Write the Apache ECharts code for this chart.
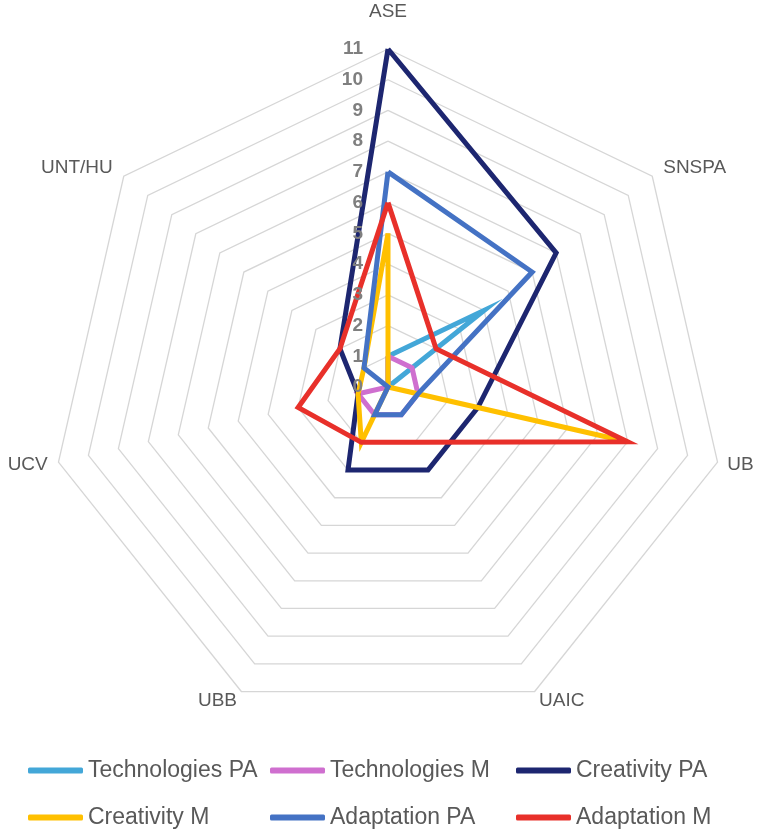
<!DOCTYPE html>
<html>
<head>
<meta charset="utf-8">
<script src="https://cdn.jsdelivr.net/npm/echarts@6/dist/echarts.min.js"></script>
<style>
  html, body { margin: 0; padding: 0; background: #fff; }
  #chart { width: 762px; height: 833px; }
</style>
</head>
<body>
<div id="chart"></div>
<script>
// axes in the order Excel draws them (clockwise from the top)
const universities = ['ASE', 'SNSPA', 'UB', 'UAIC', 'UBB', 'UCV', 'UNT/HU'];
const nameGaps = [28, 14, 10, 10, 10, 11, 14];

const technologiesPA = [1, 4, 0, 0, 0, 0, 0];
const technologiesM = [1, 1, 1, 1, 1, 1, 0];
const creativityPA = [11, 7, 3, 3, 3, 1, 2];
const creativityM = [5, 0, 8, 0, 2, 1, 1];
const adaptationPA = [7, 6, 1, 1, 1, 0, 1];
const adaptationM = [6, 2, 8, 2, 2, 3, 2];

const seriesNames = ['Technologies PA', 'Technologies M', 'Creativity PA',
  'Creativity M', 'Adaptation PA', 'Adaptation M'];
const seriesColors = ['#43a7d8', '#cf6fcf', '#1d2670', '#ffc000', '#4472c4', '#e8302a'];
const seriesValues = [technologiesPA, technologiesM, creativityPA,
  creativityM, adaptationPA, adaptationM];

const FONT = '"Liberation Sans", Arial, sans-serif';
const CENTER = [388, 387];
const RADIUS = 338;

// echarts lays indicators out counter-clockwise, so flip the order after the first one
const order = [0, 6, 5, 4, 3, 2, 1];
const reorder = arr => order.map(i => arr[i]);

function makeIndicators(withLabels) {
  return reorder(universities.map((name, i) => {
    const ind = { name: name, min: 0, max: 11, nameGap: nameGaps[i] };
    if (withLabels && i === 0) {
      ind.axisLabel = {
        show: true, color: '#7f7f7f', fontWeight: 'bold', showMinLabel: true,
        fontSize: 19, fontFamily: FONT, margin: 25
      };
    }
    return ind;
  }));
}

const legendPos = [[28, 759], [270, 759], [516, 759], [28, 806], [270, 806], [516, 806]];

const chart = echarts.init(document.getElementById('chart'));
chart.setOption({
  animation: false,
  backgroundColor: '#fff',
  legend: seriesNames.map((name, i) => ({
    data: [name],
    left: legendPos[i][0],
    top: legendPos[i][1],
    padding: 0,
    icon: 'roundRect',
    itemWidth: 55,
    itemHeight: 6,
    selectedMode: false,
    textStyle: { color: '#595959', fontSize: 23, fontFamily: FONT }
  })),
  radar: [{
    // grid + names
    center: CENTER,
    radius: RADIUS,
    startAngle: 90,
    shape: 'polygon',
    splitNumber: 11,
    indicator: makeIndicators(false),
    axisName: { color: '#595959', fontSize: 19, fontFamily: FONT },
    axisLine: { show: false },
    axisTick: { show: false },
    axisLabel: { show: false },
    splitArea: { show: false },
    splitLine: { lineStyle: { color: '#d6d6d6', width: 1.3 } }
  }, {
    // tick labels drawn above the series lines
    z: 5,
    center: CENTER,
    radius: RADIUS,
    startAngle: 90,
    shape: 'polygon',
    splitNumber: 11,
    indicator: makeIndicators(true),
    axisName: { show: false },
    axisLine: { show: false },
    axisTick: { show: false },
    axisLabel: { show: false },
    splitArea: { show: false },
    splitLine: { show: false }
  }],
  series: seriesNames.map((name, i) => ({
    type: 'radar',
    radarIndex: 0,
    name: name,
    symbol: 'none',
    color: seriesColors[i],
    lineStyle: { width: 5, color: seriesColors[i], join: 'miter' },
    data: [{ name: name, value: reorder(seriesValues[i]) }]
  }))
});
</script>
</body>
</html>
